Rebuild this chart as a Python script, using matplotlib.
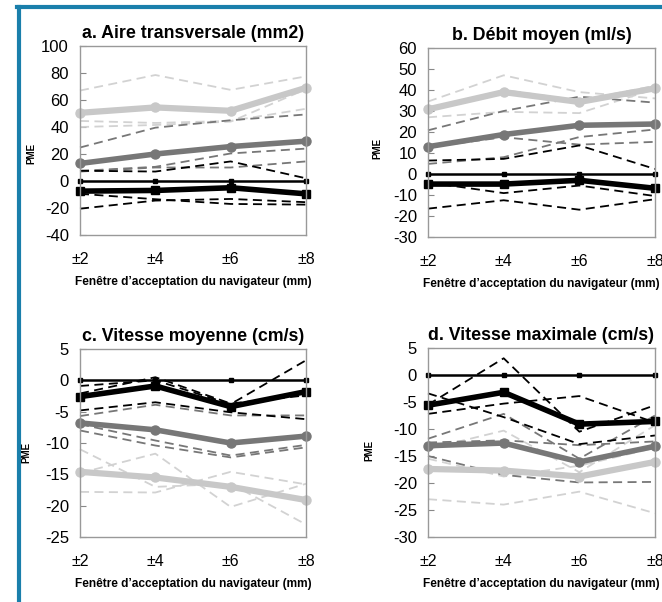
import matplotlib
matplotlib.use('Agg')
import matplotlib.pyplot as plt
from matplotlib.lines import Line2D

plt.rcParams['font.family'] = ['Liberation Sans', 'DejaVu Sans']
plt.rcParams['axes.unicode_minus'] = False

windows = [2, 4, 6, 8]
window_labels = ['±2', '±4', '±6', '±8']
zero = [0, 0, 0, 0]

titles = ['a. Aire transversale (mm2)', 'b. Débit moyen (ml/s)',
          'c. Vitesse moyenne (cm/s)', 'd. Vitesse maximale (cm/s)']
ylims = [(-40, 100, 20), (-30, 60, 10), (-25, 5, 5), (-30, 5, 5)]

# a. Aire transversale
a_black_mean = [-7.5, -7, -5, -9.5]
a_black_ind = [[7.6, 7, 14.5, 2], [-20.5, -14.5, -13.3, -15.7], [-9.5, -13.5, -17, -17.5]]
a_dark_mean = [13, 20, 25.5, 29.5]
a_dark_ind = [[24.8, 39.5, 45, 49.3], [7.5, 10.5, 20.4, 24], [7, 10, 10, 14.5]]
a_light_mean = [50.5, 54.5, 52, 69]
a_light_ind = [[67, 78.5, 67.5, 77.5], [44.5, 43, 44.5, 53.5], [40, 41.5, 44, 68]]

# b. Debit moyen
b_black_mean = [-4.8, -4.8, -3, -6.8]
b_black_ind = [[6.4, 7.2, 13.6, 2.4], [-16.5, -12.5, -17, -12], [-4, -9.1, -5.5, -10.5]]
b_dark_mean = [13, 18.8, 23.2, 23.8]
b_dark_ind = [[20.8, 30, 36.8, 34], [12.8, 17.5, 14, 15.3], [4.8, 8, 17.6, 21.2]]
b_light_mean = [30.8, 39, 34.3, 40.8]
b_light_ind = [[34.5, 47, 39, 36], [27, 29.6, 29, 40.5], [30.5, 40, 35, 42]]

# c. Vitesse moyenne
c_black_mean = [-2.6, -0.9, -4.2, -1.8]
c_black_ind = [[-0.9, 0, -3.8, 3.2], [-4.8, -3.5, -5.1, -6.2], [-2.1, 0.5, -3.7, -2.4]]
c_dark_mean = [-6.8, -7.9, -10, -8.9]
c_dark_ind = [[-5.7, -3.9, -5.6, -5.6], [-8, -10.4, -12.3, -10.7], [-7, -9.6, -12, -10.3]]
c_light_mean = [-14.6, -15.5, -17, -19.1]
c_light_ind = [[-11, -17, -16.5, -23], [-17.8, -17.9, -14.6, -16.6], [-14.8, -11.7, -20.2, -16.5]]

# d. Vitesse maximale
d_black_mean = [-5.6, -3.2, -9.1, -8.6]
d_black_ind = [[-5.5, 3.1, -10.5, -5.6], [-3.4, -7.8, -12.8, -11.2], [-7.2, -5.3, -3.9, -8.8]]
d_dark_mean = [-13.1, -12.6, -16.1, -13.2]
d_dark_ind = [[-11.8, -7.2, -15.5, -7.5], [-15, -18.5, -19.9, -19.8], [-12.5, -12.1, -13, -12.3]]
d_light_mean = [-17.4, -17.7, -18.8, -16.1]
d_light_ind = [[-23, -24, -21.6, -25.6], [-13.7, -10.3, -18, -9.3], [-15.5, -18.8, -16.8, -13.5]]

panels = [
    (a_black_mean, a_black_ind, a_dark_mean, a_dark_ind, a_light_mean, a_light_ind),
    (b_black_mean, b_black_ind, b_dark_mean, b_dark_ind, b_light_mean, b_light_ind),
    (c_black_mean, c_black_ind, c_dark_mean, c_dark_ind, c_light_mean, c_light_ind),
    (d_black_mean, d_black_ind, d_dark_mean, d_dark_ind, d_light_mean, d_light_ind),
]

LIGHT = '#c8c8c8'
LIGHT_D = '#d2d2d2'
DARK = '#777777'
BLACK = '#000000'

# axes boxes in pixels (left, top, right, bottom) on a 662x602 canvas
boxes = [(80, 46, 306, 235), (428, 48, 655, 237), (80, 349, 306, 537), (428, 348, 655, 537)]
ylabel_xy = [(-0.195, 0.43), (-0.199, 0.47), (-0.213, 0.45), (-0.237, 0.46)]

W, H = 662, 602
fig = plt.figure(figsize=(W / 100, H / 100), dpi=100)

for i, (bm, bi, dm, di, lm, li) in enumerate(panels):
    l, t, r, b = boxes[i]
    ax = fig.add_axes([l / W, 1 - b / H, (r - l) / W, (b - t) / H])
    dash = dict(lw=1.3, ls=(0, (5, 3)), clip_on=False)
    for s in li:
        ax.plot(windows, s, color=LIGHT_D, **dash)
    for s in di:
        ax.plot(windows, s, color=DARK, **dash)
    for s in bi:
        ax.plot(windows, s, color=BLACK, **dash)
    ax.plot(windows, lm, color=LIGHT, lw=4.5, marker='o', ms=6.5, clip_on=False)
    ax.plot(windows, dm, color=DARK, lw=4, marker='o', ms=6.5, clip_on=False)
    ax.plot(windows, zero, color=BLACK, lw=1.8, marker='s', ms=3, clip_on=False)
    ax.plot(windows, bm, color=BLACK, lw=4, marker='s', ms=6, clip_on=False)

    lo, hi, step = ylims[i]
    ax.set_ylim(lo, hi)
    ax.set_yticks(range(lo, hi + 1, step))
    ax.set_xlim(2, 8)
    ax.set_xticks(windows)
    ax.set_xticklabels(window_labels)
    ax.tick_params(axis='y', direction='in', length=4, color='#888888',
                   labelsize=12, pad=8)
    ax.tick_params(axis='x', length=0, labelsize=11.5, pad=12)
    for sp in ax.spines.values():
        sp.set_color('#999999')
        sp.set_linewidth(1)
    ax.set_title(titles[i], fontsize=12.8, fontweight='bold', pad=6)
    ax.set_xlabel("Fenêtre d’acceptation du navigateur (mm)", fontsize=8.6,
                  fontweight='bold', labelpad=7)
    ax.set_ylabel('PME', fontsize=7, fontweight='bold')
    ax.yaxis.set_label_coords(*ylabel_xy[i])

# blue frame on the left and top
blue = '#1a7fab'
fig.add_artist(Line2D([18.5 / W, 18.5 / W], [0, 1 - 7 / H], color=blue, lw=3))
fig.add_artist(Line2D([17 / W, 1], [1 - 7 / H, 1 - 7 / H], color=blue, lw=3))

fig.savefig('out.png', dpi=100)
